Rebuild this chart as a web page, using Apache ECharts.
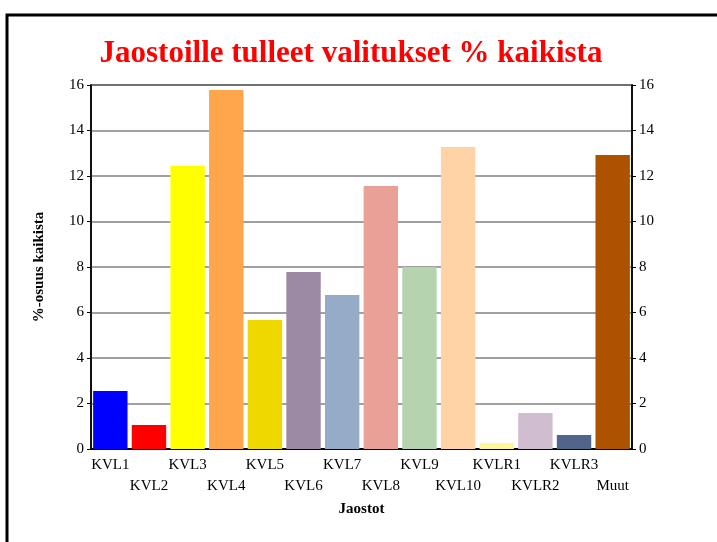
<!DOCTYPE html>
<html lang="fi">
<head>
    <meta charset="UTF-8">
    <title>Jaostoille tulleet valitukset</title>
    <script type="text/javascript" src="https://cdn.jsdelivr.net/npm/echarts@6/dist/echarts.min.js"></script>
    <style>
        html, body { margin: 0; padding: 0; background: #fff; }
        #chart { width: 717px; height: 542px; }
    </style>
</head>
<body>
    <div id="chart"></div>
    <script type="text/javascript">
        var categories = ['KVL1', 'KVL2', 'KVL3', 'KVL4', 'KVL5', 'KVL6', 'KVL7', 'KVL8',
            'KVL9', 'KVL10', 'KVLR1', 'KVLR2', 'KVLR3', 'Muut'];
        var values = [2.55, 1.05, 12.45, 15.78, 5.67, 7.78, 6.77, 11.56,
            8.0, 13.27, 0.26, 1.58, 0.62, 12.92];
        var colors = ['#0000ff', '#ff0000', '#ffff00', '#ffa64d', '#efd700', '#9c89a3', '#95abc8', '#e8a097',
            '#b6d3b0', '#ffd3a5', '#fff79a', '#d0bed0', '#4f6589', '#ad5300'];
        var yTicks = [0, 2, 4, 6, 8, 10, 12, 14, 16];

        var font = 'Liberation Serif';
        var mychart = echarts.init(document.getElementById('chart'));

        var yAxisBase = {
            type: 'value',
            min: yTicks[0],
            max: yTicks[yTicks.length - 1],
            interval: yTicks[1] - yTicks[0],
            axisLine: { show: true, lineStyle: { color: '#000', width: 1.5 } },
            axisTick: { show: true, length: 4, lineStyle: { color: '#000' } },
            axisLabel: { color: '#000', fontFamily: font, fontSize: 15, margin: 7 }
        };

        var option = {
            animation: false,
            graphic: [{
                type: 'rect',
                shape: { x: 7, y: 15, width: 720, height: 540 },
                style: { fill: 'none', stroke: '#000', lineWidth: 3 }
            }],
            title: {
                text: 'Jaostoille tulleet valitukset % kaikista',
                left: 346,
                top: 33,
                textAlign: 'center',
                textStyle: { color: '#ff0000', fontFamily: font, fontWeight: 'bold', fontSize: 31 }
            },
            grid: {
                left: 91, right: 85, top: 85, bottom: 93,
                show: true, borderColor: '#000', borderWidth: 1.5,
                containLabel: false
            },
            xAxis: {
                type: 'category',
                data: categories,
                name: 'Jaostot',
                nameLocation: 'middle',
                nameGap: 52,
                nameTextStyle: { color: '#000', fontFamily: font, fontWeight: 'bold', fontSize: 15 },
                axisLine: { show: true, lineStyle: { color: '#000', width: 2 } },
                axisTick: { show: false },
                axisLabel: {
                    interval: 0,
                    color: '#000',
                    fontFamily: font,
                    fontSize: 15,
                    lineHeight: 21,
                    margin: 6,
                    formatter: function (v, i) { return i % 2 === 1 ? '\n' + v : v; }
                }
            },
            yAxis: [
                Object.assign({}, yAxisBase, {
                    position: 'left',
                    name: '%-osuus kaikista',
                    nameLocation: 'middle',
                    nameGap: 44,
                    nameTextStyle: { color: '#000', fontFamily: font, fontWeight: 'bold', fontSize: 15 },
                    splitLine: { show: true, lineStyle: { color: '#808080', width: 1.5 } }
                }),
                Object.assign({}, yAxisBase, {
                    position: 'right',
                    splitLine: { show: false }
                })
            ],
            series: [{
                type: 'bar',
                yAxisIndex: 0,
                barCategoryGap: '11%',
                data: values.map(function (v, i) {
                    return { value: v, itemStyle: { color: colors[i] } };
                })
            }]
        };
        mychart.setOption(option);
    </script>
</body>
</html>
